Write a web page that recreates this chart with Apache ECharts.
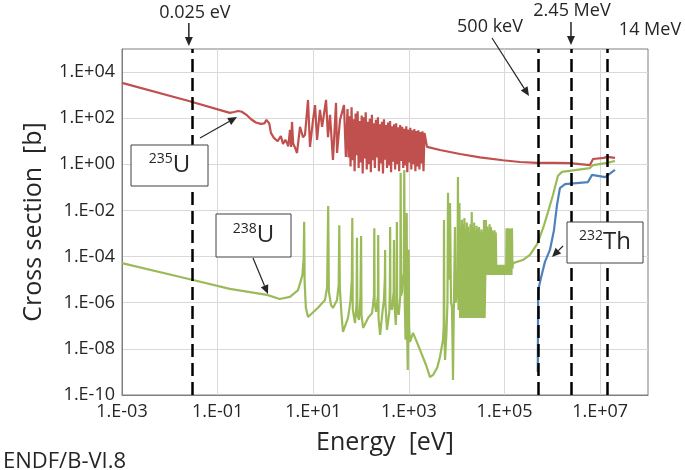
<!DOCTYPE html>
<html><head><meta charset="utf-8">
<script src="https://cdn.jsdelivr.net/npm/echarts@6/dist/echarts.min.js"></script>
<style>html,body{margin:0;padding:0;background:#fff}#c{width:685px;height:470px}</style>
</head><body><div id="c"></div>
<script>
// ---------- tick values ----------
const xTicks = [1e-3, 1e-1, 1e1, 1e3, 1e5, 1e7];
const yTicks = [1e-10, 1e-8, 1e-6, 1e-4, 1e-2, 1e0, 1e2, 1e4];

// ---------- U-235 (red) ----------
const u235E = [1e-3, 0.025, 0.18, 0.22, 0.27, 0.32, 0.4, 0.5, 0.63, 0.8, 0.95, 1.05, 1.13, 1.2, 1.3, 1.5, 1.8, 2.1, 2.33, 2.6, 2.82, 3.0, 3.26, 3.45, 3.59, 3.8, 4.2, 4.57, 5.28, 6.1, 6.72, 7.76, 8.54, 9.87, 10.9, 12.0, 13.8, 15.3, 18.5, 20.3, 22.4, 25.8, 29.9, 31.4, 36.2, 43.9, 48,
  52, 54.6, 57.3, 60.2, 63.2, 66.4, 69.7, 73.2, 76.8, 80.7, 84.7, 88.9, 93.4, 98.1, 103, 108, 113.5, 119, 125, 131.5, 138, 145, 152, 160, 168, 176, 185, 194, 204, 214, 225, 236, 248, 260, 273, 287, 301, 316, 332, 349, 366, 384, 404, 424, 445, 467, 490, 515, 541, 568, 596, 626, 657, 690, 725, 761, 799, 839, 881, 925, 971, 1020, 1071, 1124, 1180, 1240, 1300, 1366, 1434, 1506, 1581, 1660, 1743, 1830, 1922, 2018, 2119,
  2390, 4470, 11700, 30600, 92700, 2.1e5, 4.77e5, 1.13e6, 2.34e6, 6.1e6, 7.1e6, 1.2e7, 1.39e7, 2.04e7];
const u235S = [3400, 560, 170, 185, 205, 190, 140, 90, 65, 57, 60, 85, 100, 60, 23, 14, 10, 17, 7.6, 11.5, 8.5, 6, 31, 5.7, 69, 8, 5, 3.1, 42, 15, 19, 620, 5.7, 83, 370, 11.5, 230, 42, 620, 15, 140, 1.55, 460, 3.1, 83, 370, 2.1,
  250, 2.0, 120, 0.8, 300, 1.5, 90, 0.5, 160, 2.5, 200, 0.7, 75, 1.2, 130, 0.4, 110, 1.8, 180, 0.6, 70, 1.0, 95, 0.45, 140, 1.5, 60, 0.7, 85, 2.0, 110, 0.5, 55, 1.1, 70, 0.4, 90, 1.6, 50, 0.7, 65, 0.9, 75, 0.45, 45, 1.3, 55, 0.6, 60, 1.0, 40, 0.5, 50, 1.4, 42, 0.7, 35, 0.9, 45, 0.45, 32, 1.2, 38, 0.6, 30, 1.0, 34, 0.5, 28, 0.8, 30, 0.6, 25, 1.1, 27, 0.5, 23,
  5.7, 4.2, 2.8, 2.0, 1.5, 1.26, 1.15, 1.15, 1.12, 0.93, 1.7, 1.9, 2.1, 1.9];

// ---------- U-238 (green) ----------
const u238E = [1e-3, 0.025, 0.18, 1.08, 1.98, 3.26, 4.8, 5.9, 6.3, 6.45, 6.6, 7.0, 7.76, 12.4, 17.6, 19.5, 20.5, 21.2, 23.5, 25.8, 31.4, 34.0, 35.0, 36, 39, 41.8, 53.3, 60, 64, 65.5, 67, 74.7, 80.5, 82, 83.5, 90.8, 97, 100, 102, 110, 140, 170, 186, 189, 192, 206, 225, 228, 232, 250, 280, 300, 314, 318, 322, 348, 390, 400, 405, 410, 440, 480, 487, 495, 532, 552, 560, 568, 614, 660, 672, 685, 720, 742, 780, 800, 820, 850, 880, 900, 915, 945, 970, 990, 1010, 1054,
  1220, 1550, 1880, 2280, 2760, 3200, 3890, 4470, 5160, 5350, 5420, 5500, 5690, 6100, 6400, 6570, 6750, 7230, 7600, 7960, 8200, 8360, 8600, 9200, 9450, 9660, 10400, 10600, 10900, 11100,
  11400, 11750, 12100, 12450, 12850, 13200, 13600, 14000, 14450, 14900, 15300, 15800, 16250, 16750, 17250, 17750, 18300, 18850, 19400, 20000, 20600, 21200, 21850, 22500, 23200, 23900, 24600, 25300, 26100, 26900, 27700, 28500, 29400, 30200, 31100, 32100, 33000, 34000, 35000, 36100, 37200, 38300,
  39600, 40800, 42000, 43300, 44600, 45900, 47300, 48700, 50200, 51700, 53200, 54800, 56500, 58200, 59900, 61700, 63600, 65500, 67500, 69500,
  73000, 76600, 80400, 84400, 88600, 93000, 97700, 102600, 107700, 110000, 113000, 116000, 119000, 122000, 125500, 129000, 132500, 136000, 139500, 143000, 146000,
  1.5e5, 2.4e5, 3.4e5, 4.8e5, 6.4e5, 8.1e5, 1.03e6, 1.31e6, 1.59e6, 6.1e6, 7.1e6, 1.39e7, 2.04e7];
const u238S = [5.2e-5, 1.07e-5, 4e-6, 2.2e-6, 1.45e-6, 1.8e-6, 3.5e-6, 1.5e-5, 8e-5, 3.2e-3, 8e-6, 6e-7, 2.4e-7, 5.9e-7, 1.3e-6, 5e-6, 1.55e-2, 3e-6, 8e-7, 5.9e-7, 1.3e-6, 6e-6, 2.3e-3, 4e-6, 3e-7, 5.4e-8, 2.2e-7, 1.2e-6, 1e-5, 4.7e-3, 5e-7, 1.3e-7, 1e-6, 6.5e-4, 3e-7, 1.8e-7, 2e-6, 7.8e-4, 3e-7, 8.1e-8, 2.2e-7, 3.6e-7, 2e-6, 1.7e-3, 1e-6, 4e-7, 2e-6, 8.7e-4, 2e-7, 4e-8, 4e-7, 1.3e-6, 1.2e-5, 1.95e-4, 1e-6, 6.6e-8, 4e-7, 5e-6, 1.9e-3, 1e-6, 4.9e-7, 3e-6, 5.2e-4, 1e-6, 1.1e-7, 8e-7, 3.2e-3, 8e-7, 3e-7, 2e-6, 0.43, 2e-6, 3e-6, 1e-5, 2e-5, 0.57, 1e-6, 2.5e-8, 1e-6, 7.8e-3, 1e-7, 1.2e-9, 1e-6, 2e-4, 1e-7, 2e-8,
  4.9e-8, 1.5e-8, 5.5e-9, 2e-9, 6e-10, 7.4e-10, 1.5e-9, 4.5e-9, 2.5e-8, 1e-7, 3.9e-3, 2e-7, 3.3e-9, 5e-8, 1e-6, 5.8e-2, 1e-5, 2.1e-2, 1e-6, 6.6e-7, 1e-8, 4.5e-10, 1e-7, 1.9e-3, 1e-6, 1.3e-6, 1e-5, 0.28, 4.9e-7, 4.9e-7,
  2.1e-2, 2.2e-7, 1.9e-3, 2.2e-7, 4e-3, 2.2e-7, 2.5e-3, 2.2e-7, 4.7e-3, 2.2e-7, 1.5e-3, 2.2e-7, 3e-3, 2.2e-7, 2e-3, 2.2e-7, 1.2e-3, 2.2e-7, 2.5e-3, 2.2e-7, 8.5e-3, 2.2e-7, 2e-3, 2.2e-7, 3e-3, 2.2e-7, 1.4e-3, 2.2e-7, 2.2e-3, 2.2e-7, 1.6e-3, 2.2e-7, 1.9e-3, 2.2e-7, 1.2e-3, 2.2e-7, 1.5e-3, 2.2e-7, 1.1e-3, 2.2e-7, 3.9e-3, 2.2e-7,
  1.6e-5, 3.9e-3, 1.6e-5, 2e-3, 1.6e-5, 1.5e-3, 1.6e-5, 2.5e-3, 1.6e-5, 1.9e-3, 1.6e-5, 1.4e-3, 1.6e-5, 1.2e-3, 1.6e-5, 1.4e-3, 1.6e-5, 1.1e-3, 1.6e-5, 4.4e-5,
  1.6e-5, 4.4e-5, 1.6e-5, 4.4e-5, 1.6e-5, 4.4e-5, 1.6e-5, 4.4e-5, 1.6e-5, 1.7e-3, 1.6e-5, 1.5e-3, 1.6e-5, 1.7e-3, 1.6e-5, 1.6e-3, 1.6e-5, 1.3e-3, 1.6e-5, 1.7e-3, 3.0e-5,
  5.2e-5, 7.1e-5, 1.2e-4, 3.5e-4, 1.7e-3, 8.5e-3, 4.7e-2, 0.32, 0.47, 0.69, 0.93, 1.15, 1.4];

// ---------- Th-232 (blue) ----------
const th232E = [4.95e5, 5.05e5, 5.78e5, 7.0e5, 8.9e5, 1.08e6, 1.25e6, 1.44e6, 1.84e6, 5.56e6, 6.74e6, 1.27e7, 2.04e7];
const th232S = [1.0e-9, 3.5e-6, 1.2e-5, 5.9e-5, 1.95e-4, 1.4e-3, 1.7e-2, 9.4e-2, 0.14, 0.17, 0.35, 0.28, 0.57];

// ---------- marker energies ----------
const markerE = [0.025, 5e5, 2.45e6, 1.4e7];
const markerLabels = ['0.025 eV', '500 keV', '2.45 MeV', '14 MeV'];

const FONT = '"Open Sans", sans-serif';
const TXT = '#262626';
const zip = (a, b) => a.map((v, i) => [v, b[i]]);
function expLabel(v) {
  const e = Math.round(Math.log10(v));
  return '1.E' + (e < 0 ? '-' : '+') + String(Math.abs(e)).padStart(2, '0');
}

const chart = echarts.init(document.getElementById('c'), null, {renderer: 'canvas'});
chart.setOption({
  animation: false,
  backgroundColor: '#fff',
  grid: {left: 122, top: 49, width: 526, height: 346, show: true, borderColor: '#7f7f7f', borderWidth: 1, containLabel: false, outerBoundsMode: 'none'},
  xAxis: {
    type: 'log', logBase: 10, min: 1e-3, max: 1e8,
    axisLine: {show: true, lineStyle: {color: '#7f7f7f'}},
    axisTick: {show: false, customValues: xTicks},
    axisLabel: {customValues: xTicks, formatter: expLabel, fontSize: 18, color: TXT, fontFamily: FONT, margin: 8},
    splitLine: {show: true, lineStyle: {color: '#d9d9d9', width: 1}},
    name: 'Energy  [eV]', nameLocation: 'middle', nameGap: 35,
    nameTextStyle: {fontSize: 25, color: TXT, fontFamily: FONT}
  },
  yAxis: {
    type: 'log', logBase: 10, min: 1e-10, max: 1e5,
    axisLine: {show: true, lineStyle: {color: '#7f7f7f'}},
    axisTick: {show: false, customValues: yTicks},
    axisLabel: {customValues: yTicks, formatter: expLabel, fontSize: 18, color: TXT, fontFamily: FONT, margin: 7},
    splitLine: {show: true, lineStyle: {color: '#d9d9d9', width: 1}},
    name: 'Cross section  [b]', nameLocation: 'middle', nameGap: 76,
    nameTextStyle: {fontSize: 25, color: TXT, fontFamily: FONT}
  },
  series: [
    {type: 'line', name: '235U', data: zip(u235E, u235S), showSymbol: false, lineStyle: {color: '#C0504D', width: 2.2}, itemStyle: {color: '#C0504D'}, z: 2},
    {type: 'line', name: '238U', data: zip(u238E, u238S), showSymbol: false, lineStyle: {color: '#9BBB59', width: 2.2}, itemStyle: {color: '#9BBB59'}, z: 2},
    {type: 'line', name: '232Th', data: zip(th232E, th232S), showSymbol: false, lineStyle: {color: '#4F81BD', width: 2.2}, itemStyle: {color: '#4F81BD'}, z: 2},
    {type: 'line', data: [], z: 5, silent: true,
     markLine: {silent: true, symbol: ['none', 'none'], label: {show: false},
       lineStyle: {color: '#000', width: 2.5, type: [13, 6]},
       data: markerE.map(e => ({xAxis: e}))}}
  ]
});

function arrow(x1, y1, x2, y2, w) {
  const a = Math.atan2(y2 - y1, x2 - x1), L = 9, W = 4;
  const bx = x2 - L * Math.cos(a), by = y2 - L * Math.sin(a);
  const px = -Math.sin(a) * W, py = Math.cos(a) * W;
  return [
    {type: 'line', z: 100, shape: {x1: x1, y1: y1, x2: bx, y2: by}, style: {stroke: TXT, lineWidth: w || 1.2}},
    {type: 'polygon', z: 100, shape: {points: [[x2, y2], [bx + px, by + py], [bx - px, by - py]]}, style: {fill: TXT}}
  ];
}
function box(x, y, w, h, sup, main) {
  return [
    {type: 'rect', z: 100, shape: {x: x, y: y, width: w, height: h}, style: {fill: '#fff', stroke: '#404040', lineWidth: 1}},
    {type: 'text', z: 101, x: x + w / 2, y: y + h / 2, style: {
      text: '{s|' + sup + '}{m|' + main + '}', align: 'center', verticalAlign: 'middle',
      rich: {s: {fontSize: 14, fontFamily: FONT, fill: TXT, verticalAlign: 'top', lineHeight: 26},
             m: {fontSize: 24, fontFamily: FONT, fill: TXT, lineHeight: 26}}}}
  ];
}
const px = e => chart.convertToPixel({xAxisIndex: 0}, e);
const x0 = px(markerE[0]), x2 = px(markerE[2]);
let g = [];
g.push({type: 'text', z: 100, x: x0 + 6, y: 13, style: {text: markerLabels[0], fontSize: 18, fontFamily: FONT, fill: TXT, align: 'center', verticalAlign: 'middle'}});
g = g.concat(arrow(x0, 23, x0, 46, 1.5));
g.push({type: 'text', z: 100, x: 490, y: 27, style: {text: markerLabels[1], fontSize: 18, fontFamily: FONT, fill: TXT, align: 'center', verticalAlign: 'middle'}});
g = g.concat(arrow(492, 38, 529, 96));
g.push({type: 'text', z: 100, x: x2 + 1, y: 11, style: {text: markerLabels[2], fontSize: 18, fontFamily: FONT, fill: TXT, align: 'center', verticalAlign: 'middle'}});
g = g.concat(arrow(x2, 22, x2, 45, 1.5));
g.push({type: 'text', z: 100, x: 650, y: 30, style: {text: markerLabels[3], fontSize: 18, fontFamily: FONT, fill: TXT, align: 'center', verticalAlign: 'middle'}});
g = g.concat(box(131, 145, 77, 41, '235', 'U'));
g = g.concat(arrow(200, 138, 237, 117));
g = g.concat(box(216, 214, 75, 43, '238', 'U'));
g = g.concat(arrow(253, 258, 268, 294));
g = g.concat(box(567, 222, 76, 41, '232', 'Th'));
g = g.concat(arrow(563, 246, 552, 257));
g.push({type: 'text', z: 100, x: 3, y: 462, style: {text: 'ENDF/B-VI.8', fontSize: 22, fontFamily: FONT, fill: TXT, align: 'left', verticalAlign: 'middle'}});
chart.setOption({graphic: {elements: g}});
</script></body></html>
